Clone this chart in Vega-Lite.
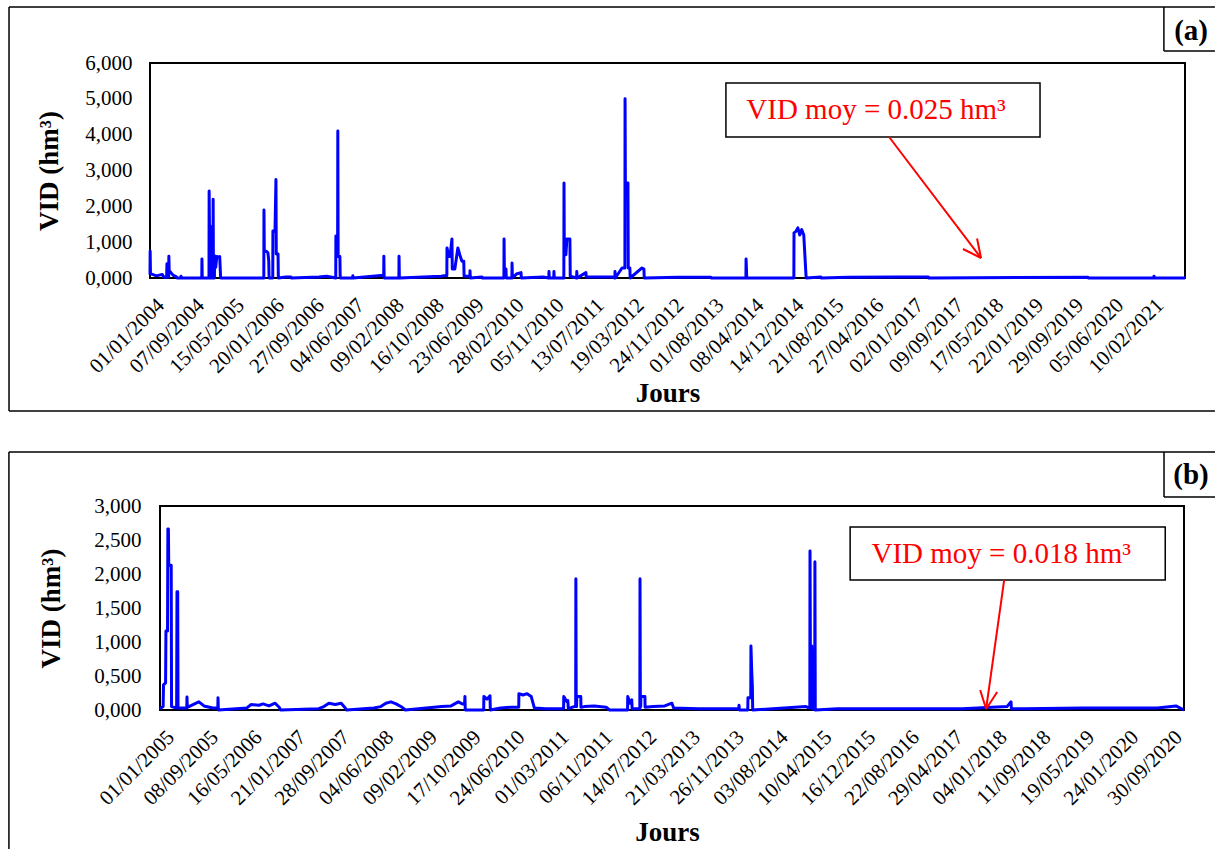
{
  "$schema": "https://vega.github.io/schema/vega-lite/v6.json",
  "background": "white",
  "padding": {"left": 7, "top": 5, "right": 0, "bottom": 0},
  "columns": 1,
  "align": "none",
  "bounds": "full",
  "spacing": 38,
  "config": {
    "font": "Liberation Serif",
    "view": {"stroke": "black", "strokeWidth": 2},
    "axis": {"labelColor": "black", "titleColor": "black", "ticks": false, "domain": false, "grid": false, "labelFont": "Liberation Serif", "titleFont": "Liberation Serif", "labelOverlap": false, "labelSeparation": 0},
    "axisY": {"labelFontSize": 21, "titleFontSize": 27, "titleFontWeight": "bold", "labelOverlap": false, "labelFlush": false, "labelBound": false}
  },
  "datasets": {
    "serieA": [
      {"date": "2004-01-01", "vid": 0.10}, {"date": "2004-01-02", "vid": 0.75}, {"date": "2004-01-04", "vid": 0.12},
      {"date": "2004-02-10", "vid": 0.06}, {"date": "2004-03-18", "vid": 0.10}, {"date": "2004-03-28", "vid": 0.02},
      {"date": "2004-04-14", "vid": 0.02}, {"date": "2004-04-16", "vid": 0.40}, {"date": "2004-04-18", "vid": 0.03},
      {"date": "2004-04-27", "vid": 0.03}, {"date": "2004-04-28", "vid": 0.61}, {"date": "2004-04-30", "vid": 0.20},
      {"date": "2004-05-11", "vid": 0.15}, {"date": "2004-05-24", "vid": 0.08}, {"date": "2004-06-14", "vid": 0.03},
      {"date": "2004-06-20", "vid": 0}, {"date": "2004-07-12", "vid": 0}, {"date": "2004-07-13", "vid": 0.05},
      {"date": "2004-07-15", "vid": 0}, {"date": "2004-11-20", "vid": 0}, {"date": "2004-11-21", "vid": 0.53},
      {"date": "2004-11-23", "vid": 0}, {"date": "2005-01-04", "vid": 0}, {"date": "2005-01-05", "vid": 2.43},
      {"date": "2005-01-07", "vid": 1.45}, {"date": "2005-01-11", "vid": 1.45}, {"date": "2005-01-12", "vid": 0},
      {"date": "2005-01-29", "vid": 0}, {"date": "2005-01-30", "vid": 2.20}, {"date": "2005-02-01", "vid": 0},
      {"date": "2005-02-07", "vid": 0}, {"date": "2005-02-08", "vid": 0.62}, {"date": "2005-02-15", "vid": 0.30},
      {"date": "2005-02-22", "vid": 0.60}, {"date": "2005-03-05", "vid": 0.58}, {"date": "2005-03-12", "vid": 0.60},
      {"date": "2005-03-18", "vid": 0}, {"date": "2005-12-13", "vid": 0}, {"date": "2005-12-14", "vid": 1.90},
      {"date": "2005-12-16", "vid": 0.75}, {"date": "2005-12-27", "vid": 0.75}, {"date": "2006-01-08", "vid": 0.70},
      {"date": "2006-01-13", "vid": 0.47}, {"date": "2006-01-15", "vid": 0}, {"date": "2006-02-07", "vid": 0},
      {"date": "2006-02-08", "vid": 1.31}, {"date": "2006-02-21", "vid": 1.30}, {"date": "2006-02-27", "vid": 2.75},
      {"date": "2006-03-01", "vid": 0.67}, {"date": "2006-03-12", "vid": 0.67}, {"date": "2006-03-14", "vid": 0},
      {"date": "2006-05-01", "vid": 0.03}, {"date": "2006-06-01", "vid": 0.03}, {"date": "2006-06-03", "vid": 0},
      {"date": "2006-11-23", "vid": 0.03}, {"date": "2007-01-10", "vid": 0.05}, {"date": "2007-02-03", "vid": 0.03},
      {"date": "2007-03-08", "vid": 0}, {"date": "2007-03-09", "vid": 1.17}, {"date": "2007-03-20", "vid": 1.17},
      {"date": "2007-03-21", "vid": 4.10}, {"date": "2007-03-23", "vid": 0.60}, {"date": "2007-04-03", "vid": 0.60},
      {"date": "2007-04-05", "vid": 0}, {"date": "2007-06-22", "vid": 0}, {"date": "2007-06-23", "vid": 0.06},
      {"date": "2007-06-25", "vid": 0}, {"date": "2007-12-15", "vid": 0.07}, {"date": "2008-01-02", "vid": 0.07},
      {"date": "2008-01-03", "vid": 0.61}, {"date": "2008-01-05", "vid": 0}, {"date": "2008-04-06", "vid": 0},
      {"date": "2008-04-07", "vid": 0.61}, {"date": "2008-04-09", "vid": 0}, {"date": "2008-12-26", "vid": 0.05},
      {"date": "2009-01-14", "vid": 0.06}, {"date": "2009-01-31", "vid": 0.06}, {"date": "2009-02-01", "vid": 0.84},
      {"date": "2009-02-12", "vid": 0.60}, {"date": "2009-02-20", "vid": 0.60}, {"date": "2009-03-04", "vid": 1.09},
      {"date": "2009-03-06", "vid": 0.25}, {"date": "2009-03-22", "vid": 0.25}, {"date": "2009-04-10", "vid": 0.84},
      {"date": "2009-04-22", "vid": 0.65}, {"date": "2009-05-05", "vid": 0.47}, {"date": "2009-05-17", "vid": 0.47},
      {"date": "2009-05-19", "vid": 0.05}, {"date": "2009-06-24", "vid": 0.05}, {"date": "2009-06-25", "vid": 0.20},
      {"date": "2009-06-27", "vid": 0}, {"date": "2009-09-08", "vid": 0.03}, {"date": "2009-09-10", "vid": 0},
      {"date": "2010-01-23", "vid": 0}, {"date": "2010-01-24", "vid": 1.09}, {"date": "2010-01-26", "vid": 0.25},
      {"date": "2010-02-05", "vid": 0.25}, {"date": "2010-02-07", "vid": 0}, {"date": "2010-03-14", "vid": 0},
      {"date": "2010-03-15", "vid": 0.42}, {"date": "2010-03-17", "vid": 0}, {"date": "2010-04-15", "vid": 0.12},
      {"date": "2010-05-10", "vid": 0.15}, {"date": "2010-05-12", "vid": 0}, {"date": "2010-09-24", "vid": 0.03},
      {"date": "2010-10-31", "vid": 0}, {"date": "2010-11-01", "vid": 0.18}, {"date": "2010-11-03", "vid": 0},
      {"date": "2010-12-01", "vid": 0}, {"date": "2010-12-02", "vid": 0.18}, {"date": "2010-12-04", "vid": 0},
      {"date": "2011-02-02", "vid": 0}, {"date": "2011-02-03", "vid": 2.65}, {"date": "2011-02-05", "vid": 0.65},
      {"date": "2011-02-15", "vid": 0.65}, {"date": "2011-02-21", "vid": 1.09}, {"date": "2011-03-12", "vid": 1.09},
      {"date": "2011-03-14", "vid": 0.05}, {"date": "2011-04-23", "vid": 0}, {"date": "2011-04-24", "vid": 0.18},
      {"date": "2011-04-26", "vid": 0}, {"date": "2011-06-20", "vid": 0.15}, {"date": "2011-06-22", "vid": 0.03},
      {"date": "2011-09-21", "vid": 0.03}, {"date": "2011-12-02", "vid": 0.03}, {"date": "2011-12-18", "vid": 0},
      {"date": "2011-12-19", "vid": 0.18}, {"date": "2011-12-21", "vid": 0}, {"date": "2012-02-01", "vid": 0.28},
      {"date": "2012-02-19", "vid": 0.28}, {"date": "2012-02-20", "vid": 5.00}, {"date": "2012-02-22", "vid": 2.65},
      {"date": "2012-03-09", "vid": 2.65}, {"date": "2012-03-11", "vid": 0.28}, {"date": "2012-03-21", "vid": 0.28},
      {"date": "2012-03-23", "vid": 0}, {"date": "2012-06-05", "vid": 0.28}, {"date": "2012-06-17", "vid": 0.25},
      {"date": "2012-06-19", "vid": 0}, {"date": "2013-01-15", "vid": 0.02}, {"date": "2013-08-10", "vid": 0.02},
      {"date": "2013-08-12", "vid": 0}, {"date": "2014-03-17", "vid": 0}, {"date": "2014-03-18", "vid": 0.53},
      {"date": "2014-03-20", "vid": 0.30}, {"date": "2014-03-22", "vid": 0}, {"date": "2015-01-11", "vid": 0},
      {"date": "2015-01-12", "vid": 1.26}, {"date": "2015-01-24", "vid": 1.30}, {"date": "2015-02-05", "vid": 1.40},
      {"date": "2015-02-17", "vid": 1.20}, {"date": "2015-03-01", "vid": 1.35}, {"date": "2015-03-14", "vid": 1.20},
      {"date": "2015-03-27", "vid": 0.15}, {"date": "2015-03-29", "vid": 0}, {"date": "2015-06-29", "vid": 0.03},
      {"date": "2015-07-01", "vid": 0}, {"date": "2015-12-15", "vid": 0.02}, {"date": "2016-10-01", "vid": 0.03},
      {"date": "2017-05-01", "vid": 0.03}, {"date": "2017-05-03", "vid": 0}, {"date": "2020-01-25", "vid": 0.02},
      {"date": "2020-01-27", "vid": 0}, {"date": "2021-03-12", "vid": 0}, {"date": "2021-03-13", "vid": 0.05},
      {"date": "2021-03-15", "vid": 0}, {"date": "2021-09-23", "vid": 0}
    ],
    "serieB": [
      {"date": "2005-01-01", "vid": 0.02}, {"date": "2005-01-19", "vid": 0.05}, {"date": "2005-01-21", "vid": 0.37},
      {"date": "2005-02-02", "vid": 0.40}, {"date": "2005-02-04", "vid": 1.16}, {"date": "2005-02-13", "vid": 1.16},
      {"date": "2005-02-15", "vid": 2.66}, {"date": "2005-02-18", "vid": 2.66}, {"date": "2005-02-20", "vid": 2.13},
      {"date": "2005-03-06", "vid": 2.13}, {"date": "2005-03-08", "vid": 0.05}, {"date": "2005-04-06", "vid": 0.03},
      {"date": "2005-04-08", "vid": 1.74}, {"date": "2005-04-12", "vid": 1.74}, {"date": "2005-04-14", "vid": 0.03},
      {"date": "2005-06-03", "vid": 0.03}, {"date": "2005-06-04", "vid": 0.19}, {"date": "2005-06-06", "vid": 0.04},
      {"date": "2005-07-26", "vid": 0.10}, {"date": "2005-08-11", "vid": 0.12}, {"date": "2005-09-09", "vid": 0.06},
      {"date": "2005-10-30", "vid": 0.03}, {"date": "2005-11-27", "vid": 0.03}, {"date": "2005-11-28", "vid": 0.18},
      {"date": "2005-11-30", "vid": 0}, {"date": "2006-05-12", "vid": 0.03}, {"date": "2006-06-04", "vid": 0.08},
      {"date": "2006-07-20", "vid": 0.07}, {"date": "2006-08-12", "vid": 0.09}, {"date": "2006-09-15", "vid": 0.06},
      {"date": "2006-10-20", "vid": 0.10}, {"date": "2006-11-12", "vid": 0.04}, {"date": "2006-11-20", "vid": 0},
      {"date": "2007-06-26", "vid": 0.02}, {"date": "2007-07-25", "vid": 0.05}, {"date": "2007-08-23", "vid": 0.10},
      {"date": "2007-09-27", "vid": 0.08}, {"date": "2007-11-01", "vid": 0.10}, {"date": "2007-11-24", "vid": 0.03},
      {"date": "2007-12-01", "vid": 0}, {"date": "2008-05-05", "vid": 0.03}, {"date": "2008-06-14", "vid": 0.05},
      {"date": "2008-07-13", "vid": 0.10}, {"date": "2008-08-11", "vid": 0.12}, {"date": "2008-09-09", "vid": 0.09},
      {"date": "2008-10-14", "vid": 0.04}, {"date": "2008-11-01", "vid": 0}, {"date": "2009-05-28", "vid": 0.05},
      {"date": "2009-07-20", "vid": 0.06}, {"date": "2009-08-30", "vid": 0.12}, {"date": "2009-09-22", "vid": 0.09},
      {"date": "2009-10-05", "vid": 0.09}, {"date": "2009-10-07", "vid": 0.20}, {"date": "2009-10-09", "vid": 0},
      {"date": "2010-01-22", "vid": 0}, {"date": "2010-01-23", "vid": 0.20}, {"date": "2010-02-10", "vid": 0.16},
      {"date": "2010-02-27", "vid": 0.21}, {"date": "2010-03-01", "vid": 0}, {"date": "2010-04-29", "vid": 0.03},
      {"date": "2010-06-27", "vid": 0.04}, {"date": "2010-08-10", "vid": 0.04}, {"date": "2010-08-11", "vid": 0.24},
      {"date": "2010-09-03", "vid": 0.22}, {"date": "2010-09-27", "vid": 0.24}, {"date": "2010-10-20", "vid": 0.20},
      {"date": "2010-11-07", "vid": 0.03}, {"date": "2011-01-12", "vid": 0.02}, {"date": "2011-04-23", "vid": 0.02},
      {"date": "2011-04-24", "vid": 0.20}, {"date": "2011-05-12", "vid": 0.12}, {"date": "2011-05-17", "vid": 0.14},
      {"date": "2011-05-20", "vid": 0.02}, {"date": "2011-06-22", "vid": 0.05}, {"date": "2011-07-01", "vid": 0.05},
      {"date": "2011-07-02", "vid": 1.93}, {"date": "2011-07-04", "vid": 0.05}, {"date": "2011-07-06", "vid": 0.05},
      {"date": "2011-07-07", "vid": 0.20}, {"date": "2011-07-30", "vid": 0.20}, {"date": "2011-07-31", "vid": 0.04},
      {"date": "2011-08-20", "vid": 0.05}, {"date": "2011-10-15", "vid": 0.06}, {"date": "2011-12-22", "vid": 0.04},
      {"date": "2012-01-10", "vid": 0}, {"date": "2012-04-22", "vid": 0}, {"date": "2012-04-23", "vid": 0.20},
      {"date": "2012-05-05", "vid": 0.10}, {"date": "2012-05-16", "vid": 0.15}, {"date": "2012-05-18", "vid": 0.02},
      {"date": "2012-07-01", "vid": 0.02}, {"date": "2012-07-02", "vid": 1.93}, {"date": "2012-07-04", "vid": 0.05},
      {"date": "2012-07-06", "vid": 0.05}, {"date": "2012-07-07", "vid": 0.20}, {"date": "2012-07-30", "vid": 0.20},
      {"date": "2012-07-31", "vid": 0.04}, {"date": "2012-09-15", "vid": 0.05}, {"date": "2012-11-20", "vid": 0.06},
      {"date": "2012-12-31", "vid": 0.10}, {"date": "2013-01-10", "vid": 0.03}, {"date": "2013-06-01", "vid": 0.02},
      {"date": "2013-11-01", "vid": 0.02}, {"date": "2014-01-17", "vid": 0.02}, {"date": "2014-01-18", "vid": 0.07},
      {"date": "2014-01-20", "vid": 0}, {"date": "2014-03-09", "vid": 0}, {"date": "2014-03-10", "vid": 0.18},
      {"date": "2014-03-26", "vid": 0.18}, {"date": "2014-03-27", "vid": 0.94}, {"date": "2014-03-31", "vid": 0.60},
      {"date": "2014-04-04", "vid": 0.35}, {"date": "2014-04-06", "vid": 0}, {"date": "2015-02-04", "vid": 0.05},
      {"date": "2015-02-20", "vid": 0.03}, {"date": "2015-02-26", "vid": 0.03}, {"date": "2015-02-27", "vid": 2.34},
      {"date": "2015-03-01", "vid": 0.94}, {"date": "2015-03-09", "vid": 0.94}, {"date": "2015-03-11", "vid": 0.02},
      {"date": "2015-03-26", "vid": 0.02}, {"date": "2015-03-27", "vid": 2.18}, {"date": "2015-03-29", "vid": 0},
      {"date": "2015-08-01", "vid": 0.02}, {"date": "2016-06-01", "vid": 0.02}, {"date": "2017-01-10", "vid": 0.02},
      {"date": "2017-07-15", "vid": 0.02}, {"date": "2018-03-27", "vid": 0.05}, {"date": "2018-04-19", "vid": 0.12},
      {"date": "2018-04-21", "vid": 0.02}, {"date": "2018-07-01", "vid": 0.02}, {"date": "2019-06-01", "vid": 0.03},
      {"date": "2020-01-15", "vid": 0.03}, {"date": "2020-08-01", "vid": 0.03}, {"date": "2020-11-15", "vid": 0.06},
      {"date": "2020-12-31", "vid": 0}
    ],
    "cadreA": [
      {"x1": "2001-08-02", "x2": "2022-03-29", "y1": 7.563, "y2": 7.563},
      {"x1": "2001-08-02", "x2": "2001-08-02", "y1": 7.563, "y2": -3.712},
      {"x1": "2001-08-02", "x2": "2022-03-29", "y1": -3.712, "y2": -3.712},
      {"x1": "2021-05-14", "x2": "2021-05-14", "y1": 7.563, "y2": 6.335},
      {"x1": "2021-05-14", "x2": "2022-03-29", "y1": 6.335, "y2": 6.335}
    ],
    "cadreB": [
      {"x1": "2002-08-23", "x2": "2021-06-26", "y1": 3.794, "y2": 3.794},
      {"x1": "2002-08-23", "x2": "2002-08-23", "y1": 3.794, "y2": -2.07},
      {"x1": "2020-09-08", "x2": "2020-09-08", "y1": 3.794, "y2": 3.132},
      {"x1": "2020-09-08", "x2": "2021-06-26", "y1": 3.132, "y2": 3.132}
    ],
    "bordB": [
      {"x1": "2005-01-01", "x2": "2005-01-01", "y1": 0, "y2": 3},
      {"x1": "2005-01-01", "x2": "2020-12-31", "y1": 3, "y2": 3},
      {"x1": "2020-12-31", "x2": "2020-12-31", "y1": 3, "y2": 0},
      {"x1": "2005-01-01", "x2": "2020-12-31", "y1": 0, "y2": 0}
    ],
    "etiqA": [{"date": "2021-10-31", "y": 6.893, "label": "(a)"}],
    "etiqB": [{"date": "2021-02-09", "y": 3.456, "label": "(b)"}],
    "boiteA": [{"x1": "2013-11-12", "x2": "2019-03-31", "y1": 5.442, "y2": 3.935}],
    "boiteB": [{"x1": "2015-10-14", "x2": "2020-09-15", "y1": 2.691, "y2": 1.912}],
    "texteA": [{"date": "2016-06-08", "y": 4.688, "label": "VID moy = 0.025 hm³"}],
    "texteB": [{"date": "2018-02-22", "y": 2.294, "label": "VID moy = 0.018 hm³"}],
    "flecheA": [
      {"x1": "2016-08-29", "x2": "2018-03-27", "y1": 3.935, "y2": 0.558},
      {"x1": "2017-12-04", "x2": "2018-03-27", "y1": 0.809, "y2": 0.558},
      {"x1": "2018-03-02", "x2": "2018-03-27", "y1": 1.102, "y2": 0.558}
    ],
    "flecheB": [
      {"x1": "2018-03-11", "x2": "2017-11-28", "y1": 1.912, "y2": 0.015},
      {"x1": "2018-01-30", "x2": "2017-11-28", "y1": 0.265, "y2": 0.015},
      {"x1": "2017-10-25", "x2": "2017-11-28", "y1": 0.294, "y2": 0.015}
    ]
  },
  "concat": [
    {
      "width": 1035,
      "height": 215,
      "layer": [
        {
          "data": {"name": "cadreA"},
          "mark": {"type": "rule", "color": "black", "strokeWidth": 1.5, "clip": false},
          "encoding": {
            "x": {"field": "x1", "type": "temporal",
              "scale": {"domain": [{"year": 2004, "month": 1, "date": 1}, {"year": 2021, "month": 9, "date": 23}]},
              "axis": {"title": "Jours", "format": "%d/%m/%Y", "labelAngle": -45, "labelFontSize": 21, "labelPadding": 16, "labelOffset": 3,
                "labelFlush": false, "labelOverlap": false, "labelBound": false, "titleFontSize": 27, "titleFontWeight": "bold", "titlePadding": 4,
                "values": [
                  {"year": 2004, "month": 1, "date": 1}, {"year": 2004, "month": 9, "date": 7}, {"year": 2005, "month": 5, "date": 15},
                  {"year": 2006, "month": 1, "date": 20}, {"year": 2006, "month": 9, "date": 27}, {"year": 2007, "month": 6, "date": 4},
                  {"year": 2008, "month": 2, "date": 9}, {"year": 2008, "month": 10, "date": 16}, {"year": 2009, "month": 6, "date": 23},
                  {"year": 2010, "month": 2, "date": 28}, {"year": 2010, "month": 11, "date": 5}, {"year": 2011, "month": 7, "date": 13},
                  {"year": 2012, "month": 3, "date": 19}, {"year": 2012, "month": 11, "date": 24}, {"year": 2013, "month": 8, "date": 1},
                  {"year": 2014, "month": 4, "date": 8}, {"year": 2014, "month": 12, "date": 14}, {"year": 2015, "month": 8, "date": 21},
                  {"year": 2016, "month": 4, "date": 27}, {"year": 2017, "month": 1, "date": 2}, {"year": 2017, "month": 9, "date": 9},
                  {"year": 2018, "month": 5, "date": 17}, {"year": 2019, "month": 1, "date": 22}, {"year": 2019, "month": 9, "date": 29},
                  {"year": 2020, "month": 6, "date": 5}, {"year": 2021, "month": 2, "date": 10}
                ]}},
            "x2": {"field": "x2"},
            "y": {"field": "y1", "type": "quantitative", "scale": {"domain": [0, 6], "nice": false, "zero": false},
              "axis": {"title": "VID (hm³)", "values": [0, 1, 2, 3, 4, 5, 6], "labelExpr": "replace(format(datum.value, '.3f'), '.', ',')", "labelOverlap": false, "labelPadding": 18, "titlePadding": 21}},
            "y2": {"field": "y2"}
          }
        },
        {
          "data": {"name": "serieA"},
          "mark": {"type": "line", "color": "#0000FF", "strokeWidth": 3, "strokeJoin": "round", "clip": false},
          "encoding": {
            "x": {"field": "date", "type": "temporal"},
            "y": {"field": "vid", "type": "quantitative",
              "axis": {"title": "VID (hm³)", "values": [0, 1, 2, 3, 4, 5, 6], "labelExpr": "replace(format(datum.value, '.3f'), '.', ',')", "labelOverlap": false, "labelPadding": 18, "titlePadding": 21}}
          }
        },
        {
          "mark": {"type": "rule", "color": "#FF0000", "strokeWidth": 2.5},
          "encoding": {"y": {"datum": 0.025, "type": "quantitative",
            "axis": {"title": "VID (hm³)", "values": [0, 1, 2, 3, 4, 5, 6], "labelExpr": "replace(format(datum.value, '.3f'), '.', ',')", "labelOverlap": false, "labelPadding": 18, "titlePadding": 21}}}
        },
        {
          "data": {"name": "boiteA"},
          "mark": {"type": "rect", "fill": "white", "stroke": "black", "strokeWidth": 1.5, "clip": false},
          "encoding": {
            "x": {"field": "x1", "type": "temporal"}, "x2": {"field": "x2"},
            "y": {"field": "y1", "type": "quantitative",
              "axis": {"title": "VID (hm³)", "values": [0, 1, 2, 3, 4, 5, 6], "labelExpr": "replace(format(datum.value, '.3f'), '.', ',')", "labelOverlap": false, "labelPadding": 18, "titlePadding": 21}},
            "y2": {"field": "y2"}
          }
        },
        {
          "data": {"name": "texteA"},
          "mark": {"type": "text", "color": "#FF0000", "fontSize": 29, "font": "Liberation Serif", "align": "center", "baseline": "middle", "clip": false},
          "encoding": {
            "x": {"field": "date", "type": "temporal"},
            "y": {"field": "y", "type": "quantitative",
              "axis": {"title": "VID (hm³)", "values": [0, 1, 2, 3, 4, 5, 6], "labelExpr": "replace(format(datum.value, '.3f'), '.', ',')", "labelOverlap": false, "labelPadding": 18, "titlePadding": 21}},
            "text": {"field": "label"}
          }
        },
        {
          "data": {"name": "flecheA"},
          "mark": {"type": "rule", "color": "#FF0000", "strokeWidth": 2, "clip": false},
          "encoding": {
            "x": {"field": "x1", "type": "temporal"}, "x2": {"field": "x2"},
            "y": {"field": "y1", "type": "quantitative",
              "axis": {"title": "VID (hm³)", "values": [0, 1, 2, 3, 4, 5, 6], "labelExpr": "replace(format(datum.value, '.3f'), '.', ',')", "labelOverlap": false, "labelPadding": 18, "titlePadding": 21}},
            "y2": {"field": "y2"}
          }
        },
        {
          "data": {"name": "etiqA"},
          "mark": {"type": "text", "color": "black", "fontSize": 29, "fontWeight": "bold", "font": "Liberation Serif", "align": "center", "baseline": "middle", "clip": false},
          "encoding": {
            "x": {"field": "date", "type": "temporal"},
            "y": {"field": "y", "type": "quantitative",
              "axis": {"title": "VID (hm³)", "values": [0, 1, 2, 3, 4, 5, 6], "labelExpr": "replace(format(datum.value, '.3f'), '.', ',')", "labelOverlap": false, "labelPadding": 18, "titlePadding": 21}},
            "text": {"field": "label"}
          }
        }
      ]
    },
    {
      "width": 1034,
      "height": 204,
      "view": {"stroke": null},
      "layer": [
        {
          "data": {"name": "cadreB"},
          "mark": {"type": "rule", "color": "black", "strokeWidth": 1.5, "clip": false},
          "encoding": {
            "x": {"field": "x1", "type": "temporal",
              "scale": {"domain": [{"year": 2004, "month": 11, "date": 5}, {"year": 2020, "month": 12, "date": 31}]},
              "axis": {"title": "Jours", "format": "%d/%m/%Y", "labelAngle": -45, "labelFontSize": 21, "labelPadding": 16, "labelOffset": 3,
                "labelFlush": false, "labelOverlap": false, "labelBound": false, "titleFontSize": 27, "titleFontWeight": "bold", "titlePadding": 11,
                "values": [
                  {"year": 2005, "month": 1, "date": 1}, {"year": 2005, "month": 9, "date": 8}, {"year": 2006, "month": 5, "date": 16},
                  {"year": 2007, "month": 1, "date": 21}, {"year": 2007, "month": 9, "date": 28}, {"year": 2008, "month": 6, "date": 4},
                  {"year": 2009, "month": 2, "date": 9}, {"year": 2009, "month": 10, "date": 17}, {"year": 2010, "month": 6, "date": 24},
                  {"year": 2011, "month": 3, "date": 1}, {"year": 2011, "month": 11, "date": 6}, {"year": 2012, "month": 7, "date": 14},
                  {"year": 2013, "month": 3, "date": 21}, {"year": 2013, "month": 11, "date": 26}, {"year": 2014, "month": 8, "date": 3},
                  {"year": 2015, "month": 4, "date": 10}, {"year": 2015, "month": 12, "date": 16}, {"year": 2016, "month": 8, "date": 22},
                  {"year": 2017, "month": 4, "date": 29}, {"year": 2018, "month": 1, "date": 4}, {"year": 2018, "month": 9, "date": 11},
                  {"year": 2019, "month": 5, "date": 19}, {"year": 2020, "month": 1, "date": 24}, {"year": 2020, "month": 9, "date": 30}
                ]}},
            "x2": {"field": "x2"},
            "y": {"field": "y1", "type": "quantitative", "scale": {"domain": [0, 3], "nice": false, "zero": false},
              "axis": {"title": "VID (hm³)", "values": [0, 0.5, 1, 1.5, 2, 2.5, 3], "tickCount": 7, "labelExpr": "replace(format(datum.value, '.3f'), '.', ',')", "labelOverlap": false, "labelPadding": 9, "titlePadding": 28}},
            "y2": {"field": "y2"}
          }
        },
        {
          "data": {"name": "bordB"},
          "mark": {"type": "rule", "color": "black", "strokeWidth": 2, "strokeCap": "square", "clip": false},
          "encoding": {
            "x": {"field": "x1", "type": "temporal"}, "x2": {"field": "x2"},
            "y": {"field": "y1", "type": "quantitative"}, "y2": {"field": "y2"}
          }
        },
        {
          "data": {"name": "serieB"},
          "mark": {"type": "line", "color": "#0000FF", "strokeWidth": 3, "strokeJoin": "round", "clip": false},
          "encoding": {
            "x": {"field": "date", "type": "temporal"},
            "y": {"field": "vid", "type": "quantitative"}
          }
        },
        {
          "mark": {"type": "rule", "color": "#FF0000", "strokeWidth": 2.5},
          "encoding": {
            "x": {"datum": {"year": 2005, "month": 1, "date": 1}, "type": "temporal"},
            "x2": {"datum": {"year": 2020, "month": 12, "date": 31}},
            "y": {"datum": 0.018, "type": "quantitative"}
          }
        },
        {
          "data": {"name": "boiteB"},
          "mark": {"type": "rect", "fill": "white", "stroke": "black", "strokeWidth": 1.5, "clip": false},
          "encoding": {
            "x": {"field": "x1", "type": "temporal"}, "x2": {"field": "x2"},
            "y": {"field": "y1", "type": "quantitative"}, "y2": {"field": "y2"}
          }
        },
        {
          "data": {"name": "texteB"},
          "mark": {"type": "text", "color": "#FF0000", "fontSize": 29, "font": "Liberation Serif", "align": "center", "baseline": "middle", "clip": false},
          "encoding": {
            "x": {"field": "date", "type": "temporal"},
            "y": {"field": "y", "type": "quantitative"},
            "text": {"field": "label"}
          }
        },
        {
          "data": {"name": "flecheB"},
          "mark": {"type": "rule", "color": "#FF0000", "strokeWidth": 2, "clip": false},
          "encoding": {
            "x": {"field": "x1", "type": "temporal"}, "x2": {"field": "x2"},
            "y": {"field": "y1", "type": "quantitative"}, "y2": {"field": "y2"}
          }
        },
        {
          "data": {"name": "etiqB"},
          "mark": {"type": "text", "color": "black", "fontSize": 29, "fontWeight": "bold", "font": "Liberation Serif", "align": "center", "baseline": "middle", "clip": false},
          "encoding": {
            "x": {"field": "date", "type": "temporal"},
            "y": {"field": "y", "type": "quantitative"},
            "text": {"field": "label"}
          }
        }
      ]
    }
  ]
}
